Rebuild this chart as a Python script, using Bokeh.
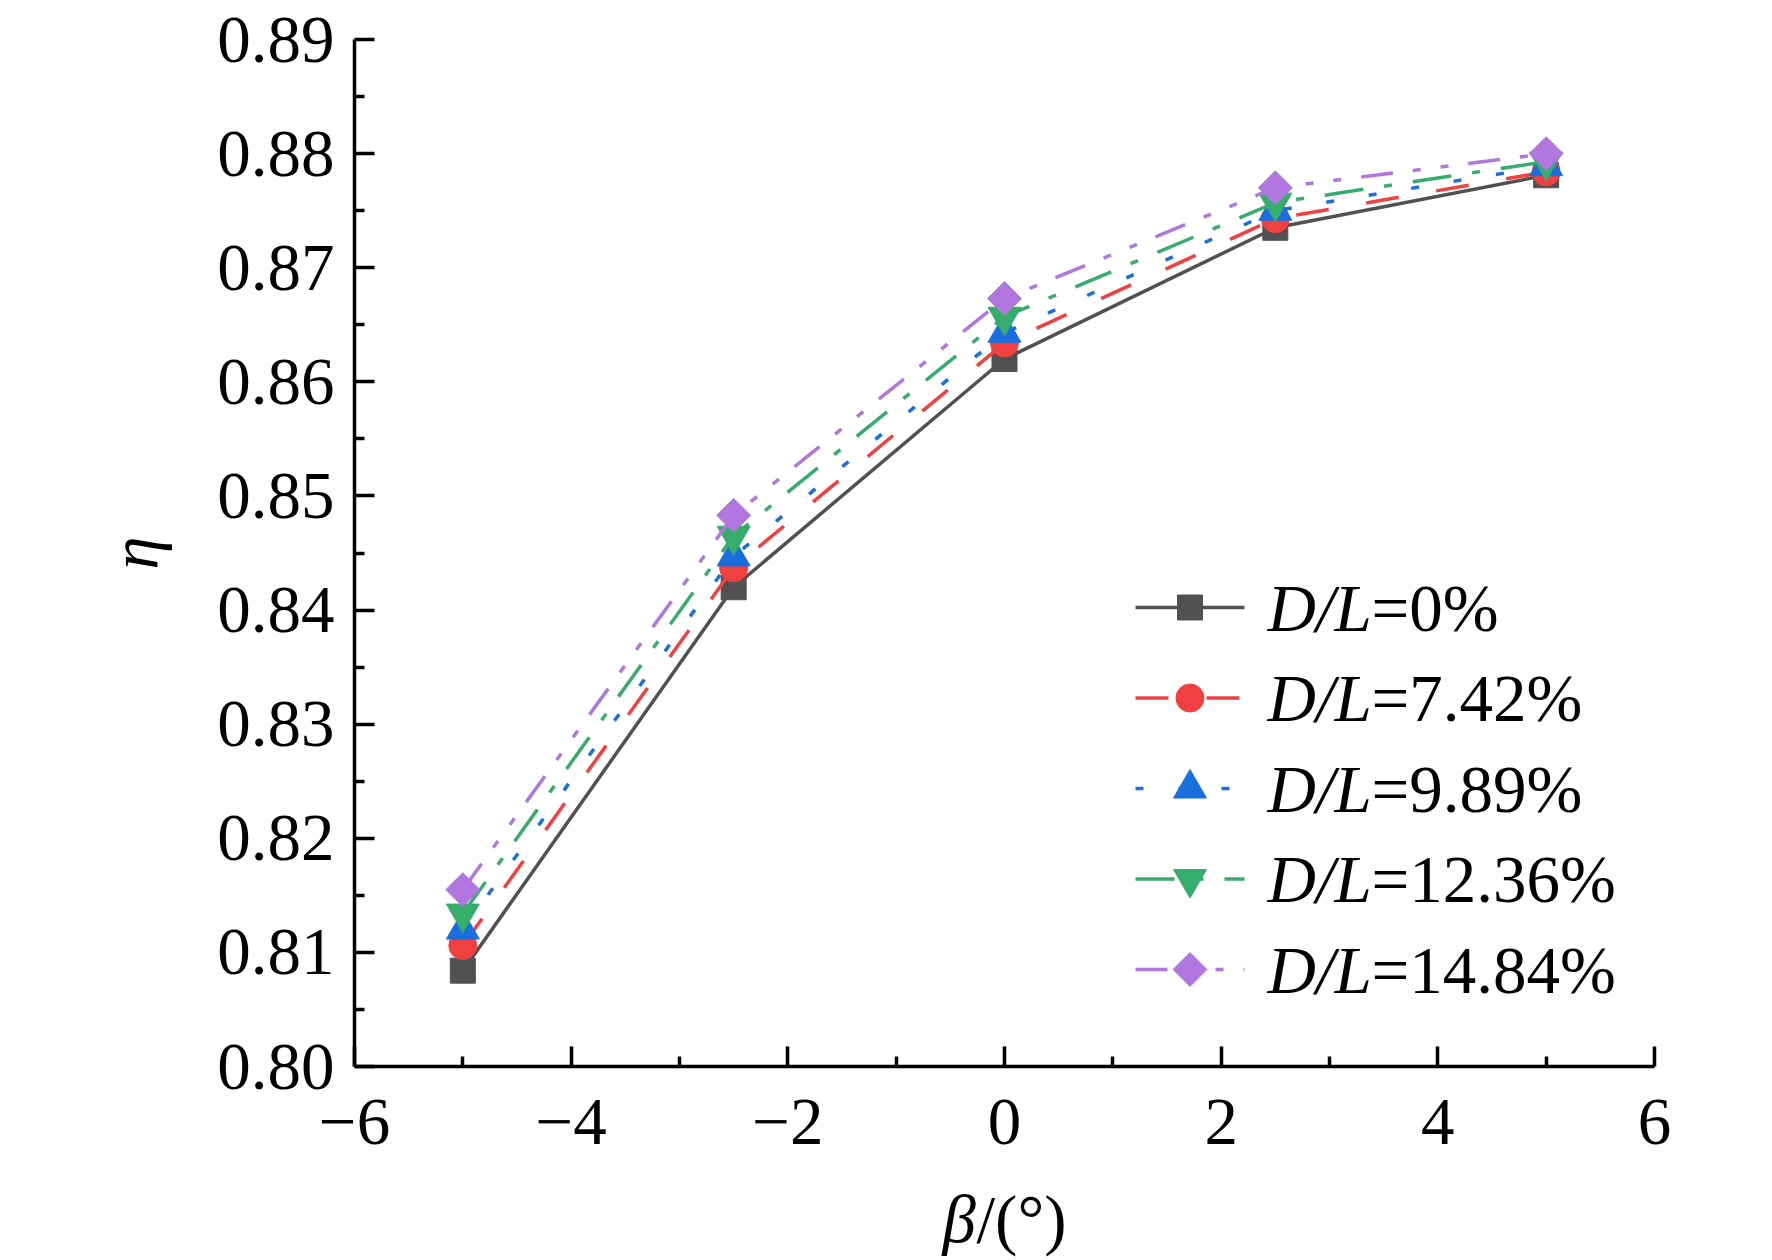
import math
from bokeh.plotting import figure
from bokeh.models import Range1d, FixedTicker, Label, PrintfTickFormatter
from bokeh.embed import file_html
from bokeh.resources import INLINE

# ---------------- data ----------------
beta = [-5, -2.5, 0, 2.5, 5]
eta_0 = [0.8084, 0.8420, 0.8620, 0.8735, 0.8781]
eta_742 = [0.8106, 0.8437, 0.8634, 0.8743, 0.8784]
eta_989 = [0.8120, 0.8447, 0.8643, 0.8750, 0.8789]
eta_1236 = [0.8134, 0.8465, 0.8657, 0.8757, 0.8793]
eta_1484 = [0.8155, 0.8483, 0.8673, 0.8770, 0.8800]
series_values = [eta_0, eta_742, eta_989, eta_1236, eta_1484]
series_labels = ["=0%", "=7.42%", "=9.89%", "=12.36%", "=14.84%"]
x_ticks = [-6, -4, -2, 0, 2, 4, 6]
x_minor = [-5, -3, -1, 1, 3, 5]
y_ticks = [0.80, 0.81, 0.82, 0.83, 0.84, 0.85, 0.86, 0.87, 0.88, 0.89]
y_minor = [0.805, 0.815, 0.825, 0.835, 0.845, 0.855, 0.865, 0.875, 0.885]

# ---------------- styles ----------------
colors = ["#515151", "#F14040", "#1A6FDF", "#37AD6B", "#B177DE"]
dashes = ["solid", "33 38", "8 35", "39 21 8 21", "32 20 8 20 8 20"]
markers = [("square", 25, 0.0), ("circle", 28, 0.0), ("triangle", 33, 0.0),
           ("inverted_triangle", 33, 0.0), ("square", 24, math.pi / 4)]

FONT = "Liberation Serif"
FS_TICK = "67px"
FS = "67px"

W, H = 1756, 1244
FL, FT, FW, FH = 354, 39, 1300, 1027
XMIN, XMAX, YMIN, YMAX = -6, 6, 0.80, 0.89


def px2x(cx):
    return XMIN + (cx - FL) * (XMAX - XMIN) / FW


def px2y(cy):
    return YMIN + (FT + FH - cy) * (YMAX - YMIN) / FH


p = figure(frame_width=FW, frame_height=FH,
           x_range=Range1d(XMIN, XMAX), y_range=Range1d(YMIN, YMAX),
           output_backend="svg", toolbar_location=None,
           min_border_left=FL, min_border_top=FT,
           min_border_right=W - FL - FW, min_border_bottom=H - FT - FH)
p.outline_line_color = None
p.grid.visible = False
p.background_fill_color = "white"
p.border_fill_color = "white"

p.xaxis.ticker = FixedTicker(ticks=x_ticks, minor_ticks=x_minor)
p.xaxis.major_label_overrides = {t: ("\u2212%d" % (-t) if t < 0 else "%d" % t) for t in x_ticks}
p.yaxis.ticker = FixedTicker(ticks=y_ticks, minor_ticks=y_minor)
p.yaxis.formatter = PrintfTickFormatter(format="%.2f")

for ax in (p.xaxis[0], p.yaxis[0]):
    ax.axis_line_width = 3.5
    ax.axis_line_color = "black"
    ax.major_tick_line_width = 3.5
    ax.minor_tick_line_width = 3.5
    ax.major_tick_line_color = "black"
    ax.minor_tick_line_color = "black"
    ax.major_tick_in = 20
    ax.major_tick_out = 0
    ax.minor_tick_in = 10
    ax.minor_tick_out = 0
    ax.major_label_text_font = FONT
    ax.major_label_text_font_size = FS_TICK
    ax.major_label_text_color = "black"

p.xaxis.major_label_standoff = 33
p.yaxis.major_label_standoff = 20

p.yaxis.axis_label = "\u03b7"
p.yaxis.axis_label_text_font = FONT
p.yaxis.axis_label_text_font_style = "italic"
p.yaxis.axis_label_text_font_size = FS
p.yaxis.axis_label_text_color = "black"
p.yaxis.axis_label_standoff = 42

# x axis label: italic beta + upright "/(°)", placed in the lower side panel (not clipped)
xl_mid = 1218
p.add_layout(Label(x=px2x(942), y=px2y(xl_mid), text="\u03b2",
                   text_font=FONT, text_font_style="italic", text_font_size=FS,
                   text_baseline="middle", text_align="left", text_color="black"), "below")
p.add_layout(Label(x=px2x(976), y=px2y(xl_mid), text="/(\u00b0)",
                   text_font=FONT, text_font_size=FS,
                   text_baseline="middle", text_align="left", text_color="black"), "below")

# ---------------- series ----------------
for vals, c, d, (m, s, a) in zip(series_values, colors, dashes, markers):
    p.line(beta, vals, line_color=c, line_width=3.5, line_dash=d)
    p.scatter(beta, vals, marker=m, size=s, angle=a,
              fill_color=c, line_color=c, line_width=1)

# ---------------- legend (drawn manually) ----------------
LEG_Y0, LEG_DY = 607, 90.5
LEG_X0, LEG_X1 = 1135, 1244
LEG_TX = 1267
for i, (lab, c, d, (m, s, a)) in enumerate(zip(series_labels, colors, dashes, markers)):
    cy = LEG_Y0 + LEG_DY * i
    yv = px2y(cy)
    p.line([px2x(LEG_X0), px2x(LEG_X1)], [yv, yv], line_color=c, line_width=3.5, line_dash=d)
    p.scatter([px2x((LEG_X0 + LEG_X1) / 2)], [yv], marker=m, size=s, angle=a,
              fill_color=c, line_color=c, line_width=1)
    p.add_layout(Label(x=px2x(LEG_TX), y=px2y(cy), text="D/L",
                       text_font=FONT, text_font_style="italic", text_font_size=FS,
                       text_baseline="middle", text_align="left", text_color="black"))
    p.add_layout(Label(x=px2x(LEG_TX + 104), y=px2y(cy), text=lab,
                       text_font=FONT, text_font_size=FS,
                       text_baseline="middle", text_align="left", text_color="black"))

open("out.html", "w").write(file_html(p, INLINE))
